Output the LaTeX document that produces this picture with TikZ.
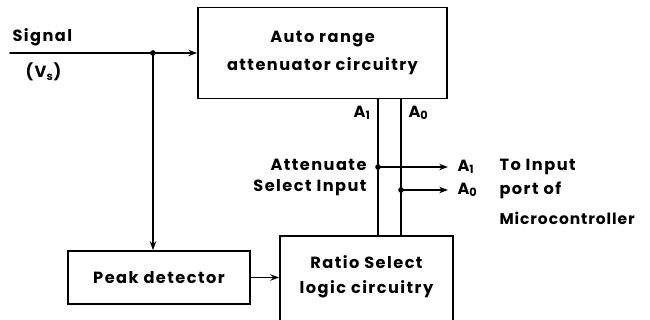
\documentclass[tikz,border=0pt]{standalone}
\usepackage{fontspec}
\setmainfont{Poppins}[LetterSpace=9]
\usetikzlibrary{arrows.meta}

\begin{document}
\begin{tikzpicture}[x=0.025cm,y=-0.025cm,>={Stealth[length=2.2mm,width=1.6mm]},font=\fontsize{11.5}{16}\selectfont\bfseries,line width=1.2pt,line cap=round,
  blk/.style={draw,rectangle,inner sep=0pt,align=center},
  dot/.style={circle,fill,inner sep=0pt,minimum size=4pt}]
\useasboundingbox (0,0) rectangle (650,320);
\begin{scope}
\clip (0,0) rectangle (650,320);
% blocks
\node[blk,minimum width=6.225cm,minimum height=2.275cm] (auto) at (322.5,53) {Auto range\\[4pt]attenuator circuitry};
\node[blk,minimum width=4.55cm,minimum height=1.325cm] (peak) at (159,277.5) {Peak detector};
\node[blk,minimum width=4.325cm,minimum height=2.5cm] (ratio) at (366.5,286) {};
\node[align=center] (ratiotxt) at (366.5,277) {Ratio Select\\[2pt]logic circuitry};
% signal input
\node[anchor=west] (sig) at (7,37) {Signal};
\node[anchor=west] (vs) at (20,72) {(V\textsubscript{s})};
\coordinate (sigin) at (10,53);
\coordinate (jn) at (153,53);
\draw[->] (sigin) -- (auto.west);
\node[dot] at (jn) {};
\draw[->] (jn) -- (jn |- peak.north);
\draw[->] (peak) -- (ratio.west |- peak);
% select lines
\coordinate (a1) at (378,167);
\coordinate (a0) at (401,190);
\coordinate (o1) at (448,167);
\coordinate (o0) at (448,190);
\draw (a1 |- auto.south) -- (a1 |- ratio.north);
\draw (a0 |- auto.south) -- (a0 |- ratio.north);
\node[anchor=east] (la1) at (376,113) {A\textsubscript{1}};
\node[anchor=west] (la0) at (403,113) {A\textsubscript{0}};
\node[dot] at (a1) {};
\node[dot] at (a0) {};
\draw[->] (a1) -- (o1);
\draw[->] (a0) -- (o0);
\node[anchor=east] (att) at (372,165) {Attenuate};
\node[anchor=east] (sel) at (372,188) {Select Input};
\node[anchor=west] (oa1) at (452,167) {A\textsubscript{1}};
\node[anchor=west] (oa0) at (452,190) {A\textsubscript{0}};
\node[anchor=west] (to) at (494,167) {To Input};
\node[anchor=west] (port) at (494,190) {port of};
\node[anchor=west,font=\fontsize{11}{16}\selectfont\bfseries\addfontfeature{LetterSpace=6}] (mc) at (494,218) {Microcontroller};
\end{scope}
\end{tikzpicture}
\end{document}
